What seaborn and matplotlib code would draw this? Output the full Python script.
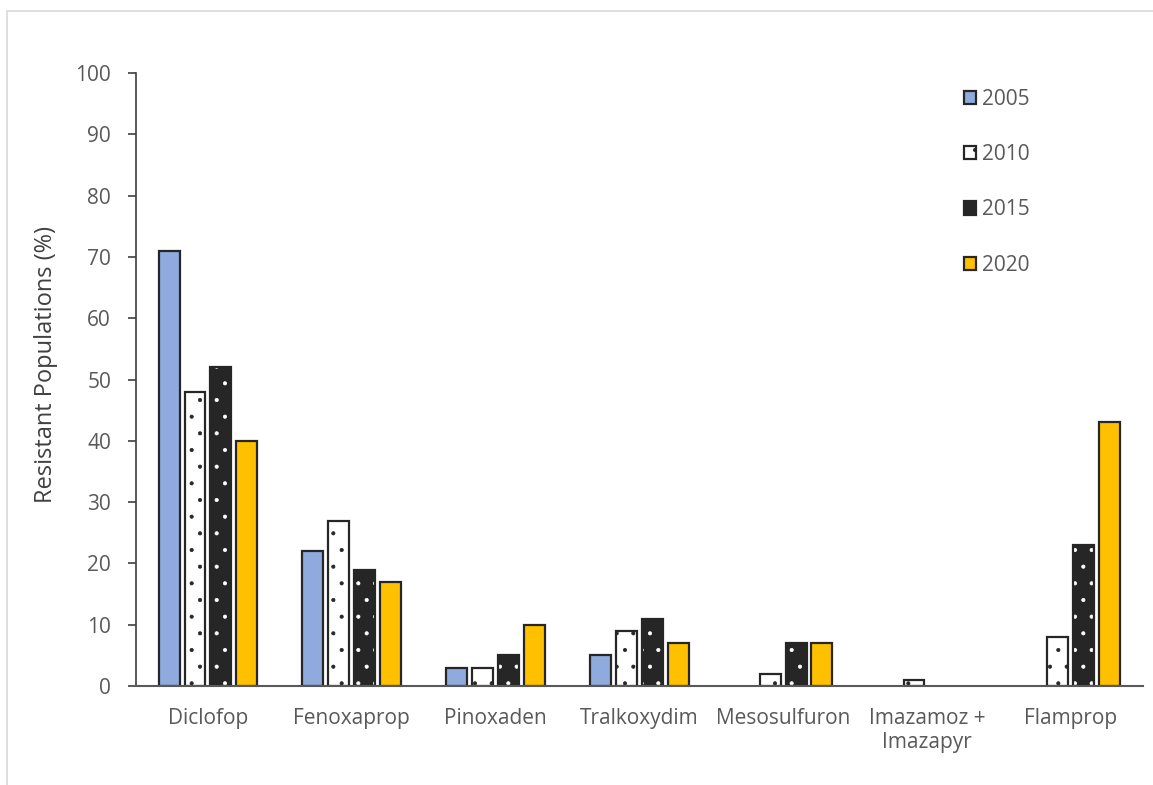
import numpy as np
import pandas as pd
import seaborn as sns
import matplotlib.pyplot as plt
from matplotlib.patches import Patch, Rectangle

herbicides = ["Diclofop", "Fenoxaprop", "Pinoxaden", "Tralkoxydim",
              "Mesosulfuron", "Imazamoz +\nImazapyr", "Flamprop"]
years = ["2005", "2010", "2015", "2020"]
pct_2005 = [71, 22, 3, 5, np.nan, np.nan, np.nan]
pct_2010 = [48, 27, 3, 9, 2, 1, 8]
pct_2015 = [52, 19, 5, 11, 7, np.nan, 23]
pct_2020 = [40, 17, 10, 7, 7, np.nan, 43]
year_colors = ["#8FAADC", "#FFFFFF", "#262626", "#FFC000"]
year_hatches = ["", ".", ".", ""]
yticks = list(range(0, 101, 10))

EDGE = "#262626"


def main():
    df = pd.DataFrame({
        "herbicide": herbicides * 4,
        "year": [y for y in years for _ in herbicides],
        "pct": pct_2005 + pct_2010 + pct_2015 + pct_2020,
    }).dropna()

    sns.set_style("white")
    plt.rcParams["font.family"] = ["Open Sans", "DejaVu Sans"]
    plt.rcParams["hatch.linewidth"] = 0.5

    fig = plt.figure(figsize=(11.53, 7.85), dpi=100)
    ax = fig.add_axes([0.118, 0.126, 0.873, 0.781])

    sns.barplot(data=df, x="herbicide", y="pct", hue="year",
                order=herbicides, hue_order=years,
                palette=dict(zip(years, year_colors)),
                width=0.72, gap=0.19, edgecolor=EDGE, linewidth=1.6,
                saturation=1, legend=False, ax=ax)

    for cont, year, hatch in zip(ax.containers, years, year_hatches):
        for p in cont.patches:
            p.set_hatch(hatch)
            if year == "2015":
                # white dots on a dark bar, outline drawn on top
                p.set_edgecolor("white")
                p.set_linewidth(0)
                ax.add_patch(Rectangle((p.get_x(), p.get_y()), p.get_width(),
                                       p.get_height(), fill=False,
                                       edgecolor=EDGE, linewidth=1.6))

    ax.set_ylim(0, 100)
    ax.set_yticks(yticks)
    ax.set_xlim(-0.5, len(herbicides) - 0.5)
    ax.set_xlabel("")
    ax.set_ylabel("Resistant Populations (%)", fontsize=17, color="#404040")
    ax.yaxis.set_label_coords(-0.0775, 0.524)
    ax.tick_params(axis="y", labelsize=15, labelcolor="#595959",
                   left=True, length=6, width=1.2, color="#404040", pad=12)
    ax.tick_params(axis="x", labelsize=15, labelcolor="#595959",
                   bottom=False, pad=12)

    sns.despine(ax=ax)
    ax.spines["left"].set_color("#404040")
    ax.spines["left"].set_linewidth(1.2)
    ax.spines["bottom"].set_color("#595959")
    ax.spines["bottom"].set_linewidth(1.5)

    handles = [Patch(facecolor=c, edgecolor=EDGE, hatch=h, linewidth=1.6)
               for c, h in zip(year_colors, year_hatches)]
    fig.legend(handles, years, loc="upper left",
               bbox_to_anchor=(0.8196, 0.911), frameon=False,
               handlelength=0.6, handleheight=0.6, handletextpad=0.3,
               labelspacing=1.65, fontsize=15, labelcolor="#595959")

    # light chart-area border
    fig.patches.append(Rectangle((0.006, -0.02), 1.0, 1.006,
                                 transform=fig.transFigure, fill=False,
                                 edgecolor="#D9D9D9", linewidth=1.2))

    fig.savefig("out.png", dpi=100)
    plt.close(fig)


if __name__ == "__main__":
    main()
